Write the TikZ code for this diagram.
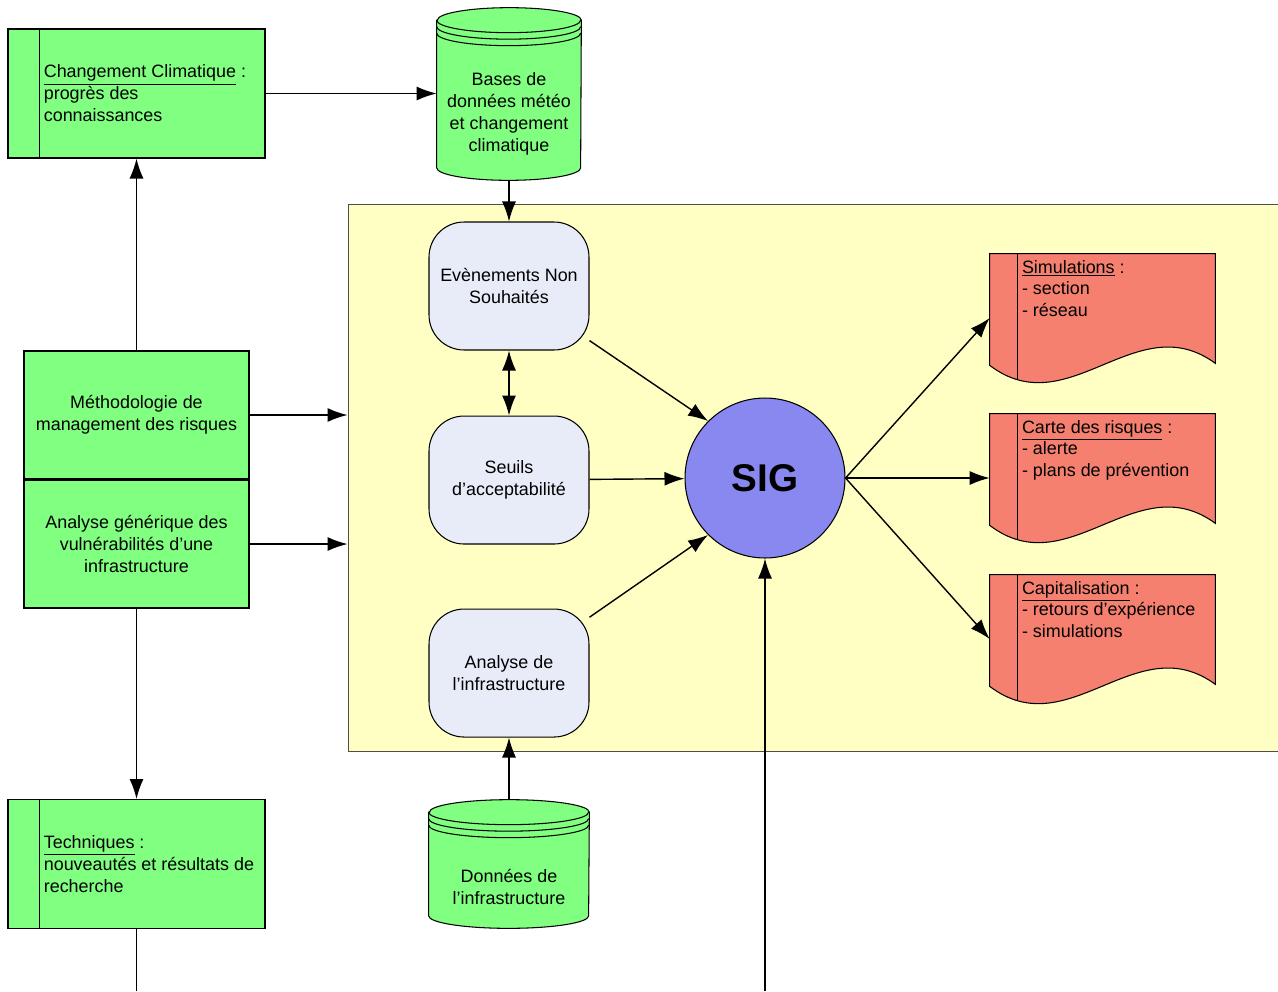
\documentclass[tikz,border=0pt]{standalone}
\usepackage{fontspec}
\setmainfont{Liberation Sans}
\usetikzlibrary{arrows.meta,positioning}

\definecolor{boxgreen}{RGB}{128,255,128}
\definecolor{docred}{RGB}{245,128,112}
\definecolor{sigblue}{RGB}{136,136,240}
\definecolor{softblue}{RGB}{232,236,248}
\definecolor{zoneyellow}{RGB}{255,255,196}

% cylinder outline round a holder node (#2 = half width)
\newcommand{\drawcyl}[2]{%
  \draw[cylfill] ([yshift=-0.25cm]#1.north west) -- ([yshift=0.25cm]#1.south west)
    arc[start angle=180, end angle=360, x radius=#2, y radius=0.25cm]
    -- ([yshift=-0.25cm]#1.north east)
    arc[start angle=0, end angle=180, x radius=#2, y radius=0.25cm] -- cycle;
  \foreach \k in {0,1,2}
    \draw[shape line] ([yshift=-0.25cm-\k*0.13cm]#1.north west)
      arc[start angle=180, end angle=360, x radius=#2, y radius=0.25cm];
}
% document outline with wavy bottom
\newcommand{\drawdoc}[1]{%
  \draw[docfill] (#1.north west) -- (#1.north east) -- ([yshift=0.38cm]#1.south east)
    .. controls +(-79,-58) and +(79,60) .. ([yshift=0.34cm]#1.south west) -- cycle;
  \draw[shape line] ([xshift=0.56cm]#1.north west) -- ([xshift=0.56cm,yshift=0.05cm]#1.south west);
}

\begin{document}
\begin{tikzpicture}[x=0.02cm, y=-0.02cm,
        every node/.style={font=\fontsize{10.2}{12.5}\selectfont},
        shape line/.style={line width=0.6pt},
        sidebox/.style={draw, shape line, fill=boxgreen, minimum width=5.14cm, minimum height=2.58cm},
        greenbox/.style={draw, shape line, fill=boxgreen, minimum width=4.5cm, minimum height=2.56cm, align=center},
        soft/.style={draw, shape line, fill=softblue, rounded corners=0.7cm, minimum width=3.2cm, minimum height=2.56cm, align=center},
        docbox/.style={minimum width=4.5cm, minimum height=2.56cm},
        notes/.style={anchor=north west, align=left, inner sep=0pt},
        cylfill/.style={draw, shape line, fill=boxgreen},
        docfill/.style={draw, shape line, fill=docred},
        zone/.style={draw=black!70, shape line, fill=zoneyellow, minimum width=18.84cm, minimum height=10.96cm},
        hub/.style={circle, draw, shape line, fill=sigblue, minimum size=3.2cm, font=\fontsize{22}{26}\selectfont\bfseries},
        arrow/.style={->, >={Latex[length=0.4cm, width=0.28cm]}, line width=0.8pt}]

    \useasboundingbox (0,0) rectangle (1278,991);

    \node[zone] (zone) at (819,478) {};

    % left column
    \node[sidebox] (clim) at (136.5,93.5) {};
    \node[notes, anchor=west] (climtxt) at ([xshift=0.72cm]clim.west) {\underline{Changement Climatique} :\\progrès des\\connaissances};
    \node[greenbox] (meth) at (136.5,415) {Méthodologie de\\management des risques};
    \node[greenbox, below=0pt of meth] (vuln) {Analyse générique des\\vulnérabilités d’une\\infrastructure};
    \node[sidebox] (tech) at (136.5,864) {};
    \node[notes, anchor=west] (techtxt) at ([xshift=0.72cm]tech.west) {\underline{Techniques} :\\nouveautés et résultats de\\recherche};
    \foreach \b in {clim,tech}
        \draw[shape line] ([xshift=0.64cm]\b.north west) -- ([xshift=0.64cm]\b.south west);

    % data bases
    \node[minimum width=2.88cm, minimum height=3.44cm] (meteo) at (509,94) {};
    \drawcyl{meteo}{1.44cm}
    \node[align=center] (meteotxt) at (509,114) {Bases de\\données météo\\et changement\\climatique};
    \node[minimum width=3.2cm, minimum height=2.56cm] (donnees) at (509,864) {};
    \drawcyl{donnees}{1.6cm}
    \node[align=center] (donneestxt) at (509,887) {Données de\\l’infrastructure};

    % middle column
    \node[soft] (evt) at (509,286) {Evènements Non\\Souhaités};
    \node[soft, below=1.3cm of evt] (seuils) {Seuils\\d’acceptabilité};
    \node[soft, below=1.28cm of seuils] (ana) {Analyse de\\l’infrastructure};
    \node[hub] (sig) at (765,478) {SIG};

    % outputs
    \node[docbox] (simu) at (1102.5,318) {};
    \node[docbox] (carte) at (1102.5,478) {};
    \node[docbox] (capi) at (1102.5,639) {};
    \foreach \d in {simu,carte,capi}{
        \drawdoc{\d}
    }
    \node[notes] (simutxt) at ([xshift=0.64cm,yshift=-0.12cm]simu.north west) {\underline{Simulations} :\\- section\\- réseau};
    \node[notes] (cartetxt) at ([xshift=0.64cm,yshift=-0.12cm]carte.north west) {\underline{Carte des risques} :\\- alerte\\- plans de prévention};
    \node[notes] (capitxt) at ([xshift=0.64cm,yshift=-0.12cm]capi.north west) {\underline{Capitalisation} :\\- retours d’expérience\\- simulations};

    \coordinate (techend) at (136.5,991);
    \coordinate (sigsrc) at (765,991);

    \draw[arrow] (clim) -- (clim -| meteo.west);
    \draw[arrow] (meteo) -- (evt);
    \draw[arrow] (meth) -- (clim);
    \draw[arrow] (meth) -- (meth -| zone.west);
    \draw[arrow] (vuln) -- (vuln -| zone.west);
    \draw[arrow] (vuln) -- (tech);
    \draw[line width=0.8pt] (tech) -- (techend);
    \draw[arrow, <->] (evt) -- (seuils);
    \draw[arrow] (evt) -- (sig.north west);
    \draw[arrow] (seuils) -- (sig);
    \draw[arrow] (ana) -- (sig.south west);
    \draw[arrow] (donnees) -- (ana);
    \draw[arrow] (sigsrc) -- (sig);
    \draw[arrow] (sig.east) -- (simu.west);
    \draw[arrow] (sig.east) -- (carte.west);
    \draw[arrow] (sig.east) -- (capi.west);
\end{tikzpicture}
\end{document}
